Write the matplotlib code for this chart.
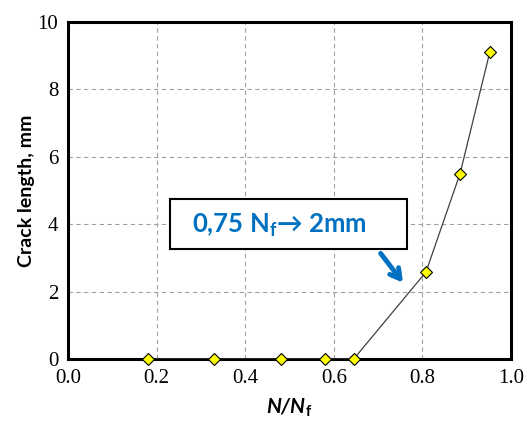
import matplotlib
matplotlib.use("Agg")
import matplotlib.pyplot as plt
from matplotlib.patches import Rectangle

# data
n_ratio = [0.18, 0.33, 0.48, 0.58, 0.645, 0.808, 0.885, 0.952]
crack_mm = [0.0, 0.0, 0.0, 0.0, 0.0, 2.58, 5.5, 9.1]
xticks = [0.0, 0.2, 0.4, 0.6, 0.8, 1.0]
yticks = [0, 2, 4, 6, 8, 10]

plt.rcParams['mathtext.fontset'] = 'custom'
plt.rcParams['mathtext.rm'] = 'Lato'
plt.rcParams['mathtext.bf'] = 'Lato:bold'
plt.rcParams['mathtext.bfit'] = 'Lato:italic:bold'

fig = plt.figure(figsize=(5.28, 4.25), dpi=100)
ax = fig.add_axes([68/528, 1 - 359/425, 443/528, 337/425])

ax.plot(n_ratio, crack_mm, color='#404040', lw=0.9, zorder=3)
ax.plot(n_ratio, crack_mm, ls='none', marker='D', ms=6.5, mfc='#ffff00',
        mec='black', mew=0.8, zorder=4, clip_on=False)

ax.set_xlim(0, 1)
ax.set_ylim(0, 10)
ax.set_xticks(xticks)
ax.set_yticks(yticks)
ax.set_xticklabels(['%.1f' % v for v in xticks], fontsize=15,
                   fontfamily='Liberation Serif')
ax.set_yticklabels([str(v) for v in yticks], fontsize=15,
                   fontfamily='Liberation Serif')
ax.tick_params(axis='both', length=0, pad=7)
ax.grid(True, ls=(0, (4, 3)), color='#a0a0a0', lw=0.8)
ax.set_axisbelow(True)
for s in ax.spines.values():
    s.set_linewidth(2.2)

ax.set_ylabel('Crack length, mm', fontfamily='Lato', fontweight='bold',
              fontsize=14, labelpad=2)
ax.set_xlabel(r'$\mathbfit{N/N}_\mathbf{f}$', fontsize=15, labelpad=6)

# callout box
ax.add_patch(Rectangle((0.23, 3.26), 0.535, 1.49, facecolor='white',
                       edgecolor='black', lw=1.5, zorder=5))
ax.text(0.478, 3.98, '0,75 N$_\\mathbf{f}$\u2192 2mm', color='#0070c0',
        fontfamily=['Lato', 'DejaVu Sans'], fontweight='bold', fontsize=18.5,
        ha='center', va='center', zorder=6)
ax.annotate('', xy=(0.76, 2.2), xytext=(0.702, 3.2),
            arrowprops=dict(arrowstyle='->,head_length=0.7,head_width=0.4',
                            color='#0070c0', lw=3.5), zorder=6)

fig.savefig('out.png', dpi=100)
